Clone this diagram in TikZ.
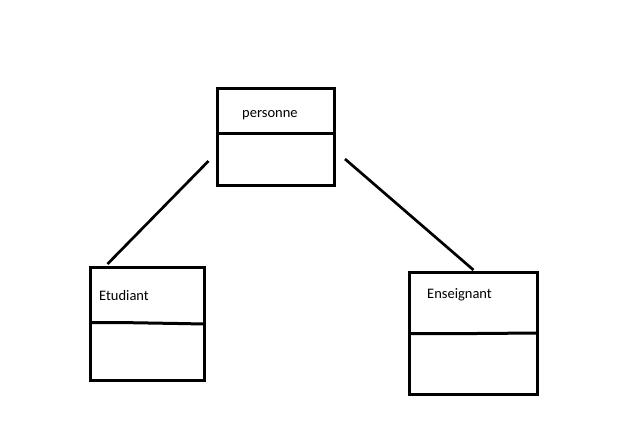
\documentclass[tikz,border=0pt]{standalone}
\usepackage{fontspec}
\setmainfont{Carlito}
\begin{document}
\begin{tikzpicture}[x=1pt,y=-1pt,
  box/.style={draw=black,line width=3pt,rectangle,inner sep=0pt,outer sep=0pt,anchor=north west},
  divider/.style={draw=black,line width=3pt},
  conn/.style={draw=black,line width=2.7pt},
  lbl/.style={font=\fontsize{14.5}{17}\selectfont,anchor=west,inner sep=0pt}]
\useasboundingbox[fill=white] (0,0) rectangle (640,429);
% personne
\node[box,minimum width=117pt,minimum height=97pt] (p) at (217.5,88.8) {};
\draw[divider] (p.west |- 0,133) -- (p.east |- 0,133);
\node[lbl] (pt) at (242,115) {personne};
% Etudiant
\node[box,minimum width=114.3pt,minimum height=113.3pt] (e) at (90.2,267.5) {};
\draw[divider] (90.2,322.5) -- (119,322.5) -- (178,323.5) -- (204.5,324);
\node[lbl] (et) at (99,296) {Etudiant};
% Enseignant
\node[box,minimum width=128pt,minimum height=122pt] (s) at (409.8,272.5) {};
\draw[divider] (409.8,333.5) -- (476,333.5) -- (537.8,333);
\node[lbl] (st) at (427,295) {Enseignant};
% connectors
\coordinate (p1) at (208.5,161);
\coordinate (e1) at (107.5,264);
\coordinate (p2) at (345,159);
\coordinate (s1) at (473.5,270);
\draw[conn] (p1) -- (e1);
\draw[conn] (p2) -- (s1);
\end{tikzpicture}
\end{document}
